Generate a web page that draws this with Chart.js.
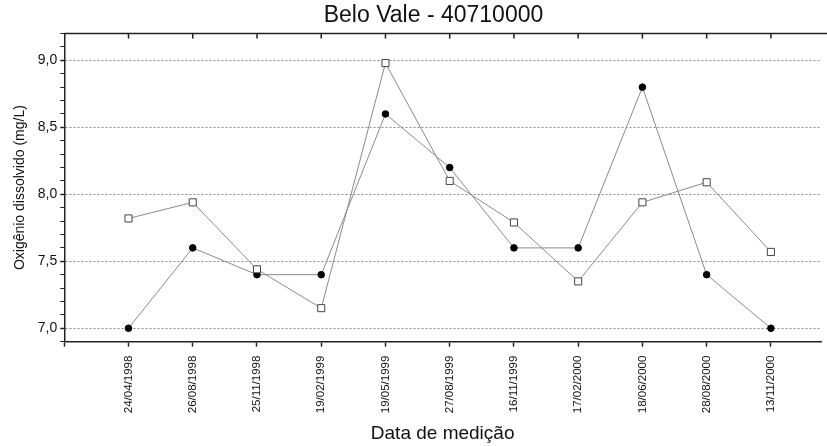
<!DOCTYPE html>
<html>
<head>
<meta charset="utf-8">
<script src="https://cdn.jsdelivr.net/npm/chart.js@4/dist/chart.umd.min.js"></script>
<style>
  body { margin: 0; background: #fff; }
</style>
</head>
<body>
<canvas id="grafico" width="827" height="446"></canvas>
<script>
// datas de medição
const datas = ["24/04/1998", "26/08/1998", "25/11/1998", "19/02/1999", "19/05/1999",
  "27/08/1999", "16/11/1999", "17/02/2000", "18/06/2000", "28/08/2000", "13/11/2000"];

// pontos cheios (círculos pretos)
const valoresCheios = [7.0, 7.6, 7.4, 7.4, 8.6, 8.2, 7.6, 7.6, 8.8, 7.4, 7.0];

// pontos vazados (quadrados)
const valoresVazados = [7.82, 7.94, 7.44, 7.15, 8.98, 8.10, 7.79, 7.35, 7.94, 8.09, 7.57];

// marcas principais do eixo y
const ticksPrincipais = [7.0, 7.5, 8.0, 8.5, 9.0];

const fonte = "'Liberation Sans', Arial, sans-serif";

function ehPrincipal(v) {
  return ticksPrincipais.some(t => Math.abs(t - v) < 1e-6);
}

// eixo de cima com marcas para dentro
const eixoSuperior = {
  id: "eixoSuperior",
  afterDraw(chart) {
    const { ctx, chartArea, scales } = chart;
    ctx.save();
    ctx.strokeStyle = "#222";
    ctx.lineWidth = 1.5;
    ctx.beginPath();
    ctx.moveTo(chartArea.left, chartArea.top);
    ctx.lineTo(chart.width, chartArea.top);
    ctx.stroke();
    scales.x.ticks.forEach(t => {
      if (t.value >= 0 && t.value < datas.length) {
        const px = scales.x.getPixelForValue(t.value);
        ctx.beginPath();
        ctx.moveTo(px, chartArea.top);
        ctx.lineTo(px, chartArea.top + 5);
        ctx.stroke();
      }
    });
    ctx.restore();
  }
};

new Chart(document.getElementById("grafico"), {
  type: "line",
  data: {
    datasets: [
      {
        label: "vazados",
        data: valoresVazados.map((v, i) => ({ x: i, y: v })),
        borderColor: "#8a8a8a",
        borderWidth: 1,
        pointStyle: "rect",
        pointRadius: 5,
        pointBackgroundColor: "#fff",
        pointBorderColor: "#444",
        pointBorderWidth: 1,
        tension: 0
      },
      {
        label: "cheios",
        data: valoresCheios.map((v, i) => ({ x: i, y: v })),
        borderColor: "#8a8a8a",
        borderWidth: 1,
        pointStyle: "circle",
        pointRadius: 3.3,
        pointBackgroundColor: "#000",
        pointBorderColor: "#000",
        pointBorderWidth: 1,
        tension: 0
      }
    ]
  },
  options: {
    responsive: false,
    animation: false,
    layout: { padding: { left: 0, right: -40, top: 0, bottom: 0 } },
    plugins: {
      legend: { display: false },
      tooltip: { enabled: false },
      title: {
        display: true,
        text: "Belo Vale - 40710000",
        color: "#111",
        font: { family: fonte, size: 23, weight: "normal" },
        padding: { top: 2, bottom: 4 }
      }
    },
    scales: {
      x: {
        type: "linear",
        min: -1,
        max: 10.78,
        afterBuildTicks: s => { s.ticks = s.ticks.filter(t => Number.isInteger(t.value)); },
        afterFit: s => { s.paddingRight = 0; },
        border: { display: true, color: "#222", width: 1.5 },
        grid: { drawOnChartArea: false, tickLength: 5, tickColor: "#222", tickWidth: 1.5 },
        ticks: {
          stepSize: 1,
          autoSkip: false,
          maxRotation: 90,
          minRotation: 90,
          padding: 9,
          color: "#111",
          font: { family: fonte, size: 11.5 },
          callback: v => (v >= 0 && v < datas.length) ? datas[v] : ""
        },
        title: {
          display: true,
          text: "Data de medição",
          color: "#111",
          font: { family: fonte, size: 19 },
          padding: { top: 0, bottom: 1 }
        }
      },
      y: {
        min: 6.9,
        max: 9.2,
        border: { display: true, color: "#222", width: 1.5, dash: [2, 2] },
        grid: {
          color: c => ehPrincipal(c.tick.value) ? "#8a8a8a" : "rgba(0,0,0,0)",
          lineWidth: 1,
          tickLength: 4,
          tickColor: "#222",
          tickWidth: c => ehPrincipal(c.tick.value) ? 1.5 : 1
        },
        ticks: {
          stepSize: 0.1,
          autoSkip: false,
          padding: 3,
          color: "#111",
          font: { family: fonte, size: 14 },
          callback: v => ehPrincipal(v) ? v.toFixed(1).replace(".", ",") : ""
        },
        title: {
          display: true,
          text: "Oxigênio dissolvido (mg/L)",
          color: "#111",
          font: { family: fonte, size: 14 },
          padding: { top: 12, bottom: 6 }
        }
      }
    }
  },
  plugins: [eixoSuperior]
});
</script>
</body>
</html>
